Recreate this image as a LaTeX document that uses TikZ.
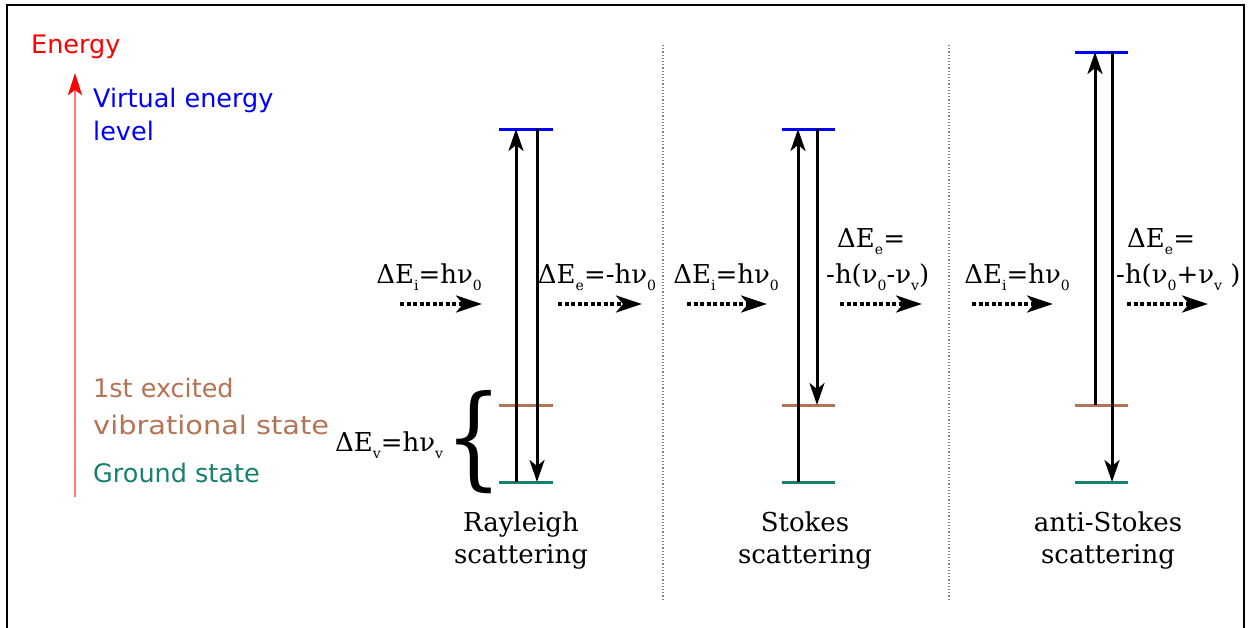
\documentclass[tikz,border=0pt]{standalone}
\usepackage{fontspec}
\usetikzlibrary{arrows.meta}
\newfontfamily\dvsans{DejaVu Sans}
\newfontfamily\dvserif{DejaVu Serif}
\newcommand{\sbx}[1]{\raisebox{-0.28em}{\fontsize{14}{14}\selectfont #1}}
\definecolor{lvlblue}{RGB}{0,0,255}
\definecolor{lvlbrown}{RGB}{180,115,85}
\definecolor{lvlteal}{RGB}{23,128,112}
\definecolor{engred}{RGB}{255,0,0}
\definecolor{engpink}{RGB}{255,120,120}
\begin{document}
\begin{tikzpicture}[x=1pt,y=-1pt,
  lvl/.style={line width=3pt},
  varrow/.style={line width=3pt,-{Stealth[length=22pt,width=15pt,inset=6pt]}},
  darrow/.style={line width=3.2pt,dash pattern=on 4pt off 2.5pt,-{Stealth[length=26pt,width=17pt,inset=7pt]}},
  divider/.style={gray,line width=1.2pt,dash pattern=on 1.2pt off 2pt},
  sanslbl/.style={font=\dvsans\fontsize{25.5}{30}\selectfont,anchor=base west,inner sep=0pt},
  serlbl/.style={font=\dvserif\fontsize{26}{30}\selectfont,anchor=base,inner sep=0pt},
  serlblw/.style={font=\dvserif\fontsize{26}{30}\selectfont,anchor=base west,inner sep=0pt}]
\useasboundingbox (0,0) rectangle (1252,627);
% frame
\draw[line width=2pt] (7,630) -- (7,5) -- (1244,5) -- (1244,630);
% energy axis
\coordinate (eb) at (75,497);
\coordinate (et) at (75,73);
\draw[engpink,line width=2.4pt,-{Stealth[length=22pt,width=14pt,inset=5pt,engred]}] (eb) -- (et);
\node[sanslbl,text=engred] (energy) at (31,53) {Energy};
\node[sanslbl,text=lvlblue] (virt1) at (93,107) {Virtual energy};
\node[sanslbl,text=lvlblue] (virt2) at (93,140) {level};
\node[sanslbl,text=lvlbrown] (exc1) at (93,397) {1st excited};
\node[sanslbl,text=lvlbrown] (exc2) at (93,434) {\scalebox{1.13}[1]{vibrational state}};
\node[sanslbl,text=lvlteal] (ground) at (93,482) {Ground state};
\node[serlblw] (dev) at (335,451) {ΔE\sbx{v}=hν\sbx{v}};
\node[inner sep=0pt,anchor=center] (brace) at (474,442) {\scalebox{0.8}[1]{\dvserif\fontsize{112}{112}\selectfont\{}};
% dividers
\coordinate (d1t) at (663,45); \coordinate (d1b) at (663,600);
\coordinate (d2t) at (949,45); \coordinate (d2b) at (949,600);
\draw[divider] (d1t) -- (d1b);
\draw[divider] (d2t) -- (d2b);
% ---------- Rayleigh
\coordinate (rvl) at (499,129); \coordinate (rvr) at (553,129);
\coordinate (rel) at (499,405); \coordinate (rer) at (553,405);
\coordinate (rgl) at (499,482); \coordinate (rgr) at (553,482);
\draw[lvl,lvlblue] (rvl) -- (rvr);
\draw[lvl,lvlbrown] (rel) -- (rer);
\draw[lvl,lvlteal] (rgl) -- (rgr);
\coordinate (rub) at (516,482); \coordinate (rut) at (516,129);
\coordinate (rdt) at (537,129); \coordinate (rdb) at (537,482);
\draw[varrow] (rub) -- (rut);
\draw[varrow] (rdt) -- (rdb);
\coordinate (ra1s) at (400,304); \coordinate (ra1e) at (482,304);
\coordinate (ra2s) at (558,304); \coordinate (ra2e) at (642,304);
\draw[darrow] (ra1s) -- (ra1e);
\draw[darrow] (ra2s) -- (ra2e);
\node[serlbl] (rli) at (429,283) {ΔE\sbx{i}=hν\sbx{0}};
\node[serlbl] (rle) at (597,283) {ΔE\sbx{e}=-hν\sbx{0}};
\node[serlbl] (rn1) at (521,531) {Rayleigh};
\node[serlbl] (rn2) at (521,563) {scattering};
% ---------- Stokes
\coordinate (svl) at (782,129); \coordinate (svr) at (835,129);
\coordinate (sel) at (782,405); \coordinate (ser) at (835,405);
\coordinate (sgl) at (782,482); \coordinate (sgr) at (835,482);
\draw[lvl,lvlblue] (svl) -- (svr);
\draw[lvl,lvlbrown] (sel) -- (ser);
\draw[lvl,lvlteal] (sgl) -- (sgr);
\coordinate (sub) at (798,482); \coordinate (sut) at (798,129);
\coordinate (sdt) at (817,129); \coordinate (sdb) at (817,405);
\draw[varrow] (sub) -- (sut);
\draw[varrow] (sdt) -- (sdb);
\coordinate (sa1s) at (687,304); \coordinate (sa1e) at (767,304);
\coordinate (sa2s) at (840,304); \coordinate (sa2e) at (922,304);
\draw[darrow] (sa1s) -- (sa1e);
\draw[darrow] (sa2s) -- (sa2e);
\node[serlbl] (sli) at (726,283) {ΔE\sbx{i}=hν\sbx{0}};
\node[serlblw] (sle1) at (837,247) {ΔE\sbx{e}=};
\node[serlblw] (sle2) at (826,283) {-h(ν\sbx{0}-ν\sbx{v})};
\node[serlbl] (sn1) at (805,531) {Stokes};
\node[serlbl] (sn2) at (805,563) {scattering};
% ---------- anti-Stokes
\coordinate (avl) at (1075,52); \coordinate (avr) at (1128,52);
\coordinate (ael) at (1075,405); \coordinate (aer) at (1128,405);
\coordinate (agl) at (1075,482); \coordinate (agr) at (1128,482);
\draw[lvl,lvlblue] (avl) -- (avr);
\draw[lvl,lvlbrown] (ael) -- (aer);
\draw[lvl,lvlteal] (agl) -- (agr);
\coordinate (aub) at (1095,405); \coordinate (aut) at (1095,52);
\coordinate (adt) at (1112,52); \coordinate (adb) at (1112,482);
\draw[varrow] (aub) -- (aut);
\draw[varrow] (adt) -- (adb);
\coordinate (aa1s) at (972,304); \coordinate (aa1e) at (1053,304);
\coordinate (aa2s) at (1127,304); \coordinate (aa2e) at (1208,304);
\draw[darrow] (aa1s) -- (aa1e);
\draw[darrow] (aa2s) -- (aa2e);
\node[serlbl] (ali) at (1017,283) {ΔE\sbx{i}=hν\sbx{0}};
\node[serlblw] (ale1) at (1127,247) {ΔE\sbx{e}=};
\node[serlblw] (ale2) at (1116,283) {-h(ν\sbx{0}+ν\sbx{v} )};
\node[serlbl] (an1) at (1108,531) {anti-Stokes};
\node[serlbl] (an2) at (1108,563) {scattering};
\end{tikzpicture}
\end{document}
